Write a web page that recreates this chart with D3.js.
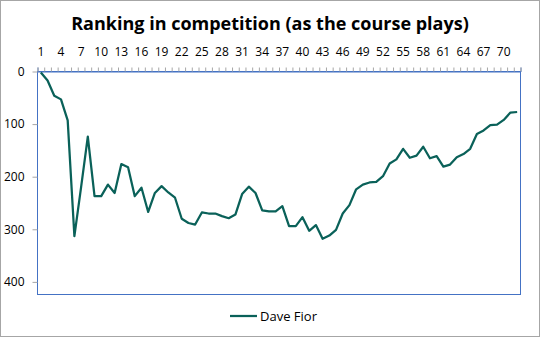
<!DOCTYPE html>
<html>
<head>
<meta charset="utf-8">
<script src="https://cdn.jsdelivr.net/npm/d3@7"></script>
<style>
  html, body { margin: 0; padding: 0; background: #fff; }
  svg { display: block; font-family: "Open Sans", "Noto Sans", sans-serif; }
</style>
</head>
<body>
<svg id="chart" width="540" height="337"></svg>
<script>
// Round-by-round ranking of one player over the course
const holes = d3.range(1, 73);
const rankings = [
  2, 17, 46, 53, 93, 313, 220, 124, 237, 237,
  215, 231, 176, 182, 237, 221, 267, 231, 218, 230,
  240, 280, 288, 291, 268, 270, 270, 275, 279, 272,
  233, 219, 231, 264, 266, 266, 256, 294, 294, 277,
  303, 292, 318, 312, 301, 270, 254, 224, 215, 211,
  210, 199, 175, 167, 147, 164, 160, 143, 165, 161,
  181, 177, 163, 157, 147, 119, 112, 102, 101, 92,
  78, 77
];
const seriesName = "Dave Fior";
const yTicks = [0, 100, 200, 300, 400];
const yMax = 424;
const title = "Ranking in competition (as the course plays)";

const svg = d3.select("#chart");
const W = 540, H = 337;
const plot = { left: 37.5, right: 520.5, top: 71.5, bottom: 294.5 };

// outer chart frame
svg.append("rect")
  .attr("x", 0.5).attr("y", 0.5)
  .attr("width", W - 1).attr("height", H - 1)
  .attr("fill", "#fff").attr("stroke", "#a6a6a6");

svg.append("text")
  .attr("x", W / 2).attr("y", 30)
  .attr("text-anchor", "middle")
  .attr("font-size", 18).attr("font-weight", "bold")
  .attr("fill", "#000")
  .text(title);

const x = d3.scaleLinear().domain([0.5, 72.5]).range([plot.left, plot.right]);
const y = d3.scaleLinear().domain([0, yMax]).range([plot.top, plot.bottom]);

// plot-area border
svg.append("rect")
  .attr("x", plot.left).attr("y", plot.top)
  .attr("width", plot.right - plot.left).attr("height", plot.bottom - plot.top)
  .attr("fill", "none").attr("stroke", "#4472c4").attr("stroke-width", 1);

// category axis along the top
const xAxis = d3.axisTop(x)
  .tickValues(d3.range(0.5, 73, 1))
  .tickSize(4)
  .tickFormat("");
const gx = svg.append("g").attr("transform", `translate(0,${plot.top})`).call(xAxis);
gx.select(".domain").attr("stroke", "#4472c4");
gx.selectAll(".tick line").attr("stroke", "#a6a6a6");

svg.append("g").selectAll("text")
  .data(holes.filter(h => (h - 1) % 3 === 0))
  .join("text")
  .attr("x", d => x(d))
  .attr("y", 56)
  .attr("text-anchor", "middle")
  .attr("font-size", 12)
  .attr("fill", "#000")
  .text(d => d);

// value axis on the left (ranks increase downward)
const yAxis = d3.axisLeft(y).tickValues(yTicks).tickSize(5).tickPadding(8);
const gy = svg.append("g").attr("transform", `translate(${plot.left},0)`).call(yAxis);
gy.select(".domain").remove();
gy.selectAll(".tick line").attr("stroke", "#a6a6a6");
gy.selectAll(".tick text").attr("font-size", 12).attr("fill", "#000")
  .attr("font-family", "'Open Sans', 'Noto Sans', sans-serif");

const line = d3.line()
  .x((d, i) => x(holes[i]))
  .y(d => y(d));

svg.append("path")
  .datum(rankings)
  .attr("d", line)
  .attr("fill", "none")
  .attr("stroke", "#0a6159")
  .attr("stroke-width", 2.25)
  .attr("stroke-linejoin", "round");

// legend
const lg = svg.append("g").attr("transform", "translate(230,316)");
lg.append("line").attr("x1", 0).attr("x2", 27).attr("y1", 0).attr("y2", 0)
  .attr("stroke", "#0a6159").attr("stroke-width", 2.25);
lg.append("text").attr("x", 30).attr("y", 4.5)
  .attr("font-size", 13).attr("fill", "#000").text(seriesName);
</script>
</body>
</html>
